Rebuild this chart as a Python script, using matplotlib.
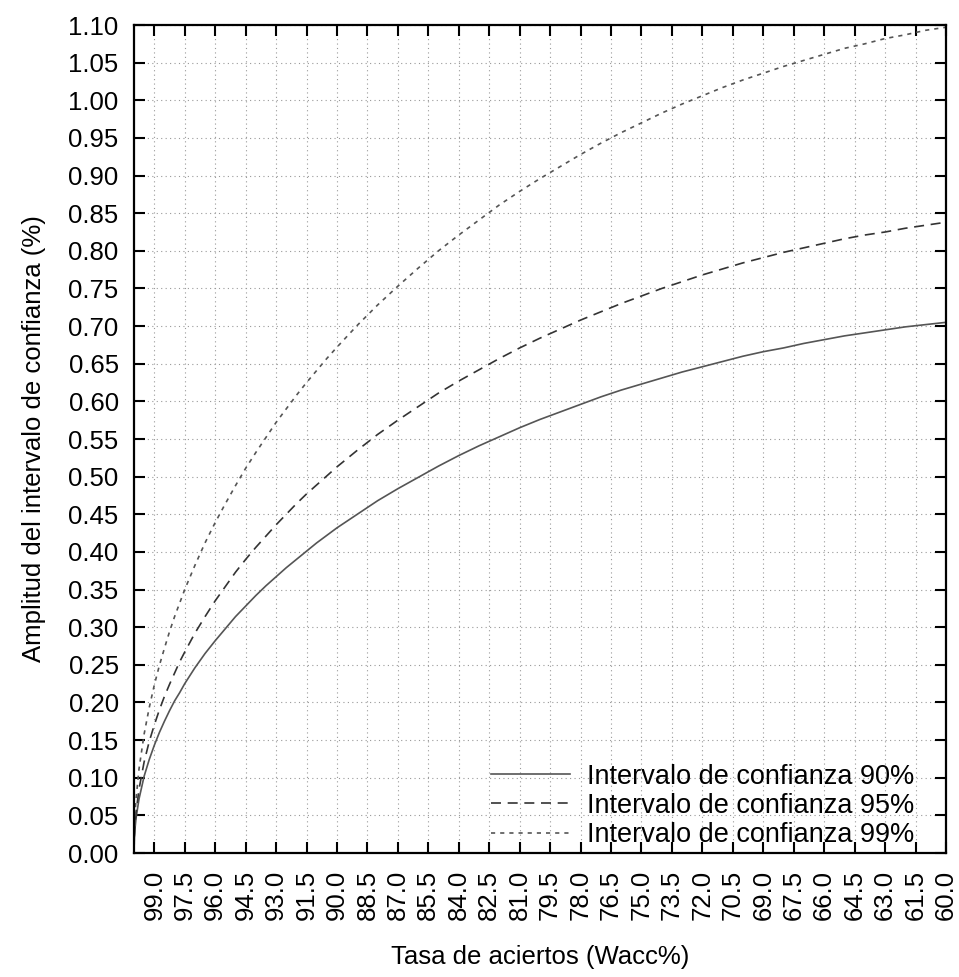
import numpy as np
import matplotlib
matplotlib.use("Agg")
import matplotlib.pyplot as plt

plt.rcParams['font.family'] = ['Liberation Sans', 'DejaVu Sans']

# Tasa de aciertos (%), with extra points near 100
wacc = [100.0, 99.98, 99.95, 99.9, 99.75, 99.5, 99.25, 99.0, 98.75, 98.5,
        98.25, 98.0, 97.75, 97.5, 97.0, 96.5, 96.0, 95.5, 95.0, 94.5, 94.0,
        93.5, 93.0, 92.5, 92.0, 91.5, 91.0, 90.5, 90.0, 89.0, 88.0, 87.0,
        86.0, 85.0, 84.0, 83.0, 82.0, 81.0, 80.0, 79.0, 78.0, 77.0, 76.0,
        75.0, 74.0, 73.0, 72.0, 71.0, 70.0, 69.0, 68.0, 67.0, 66.0, 65.0,
        64.0, 63.0, 62.0, 61.0, 60.0]

ic90 = [0.0, 0.020, 0.032, 0.046, 0.072, 0.102, 0.124, 0.143, 0.160, 0.175,
        0.189, 0.202, 0.213, 0.225, 0.246, 0.265, 0.282, 0.298, 0.314, 0.328,
        0.342, 0.355, 0.367, 0.379, 0.390, 0.401, 0.412, 0.422, 0.432, 0.450,
        0.468, 0.484, 0.499, 0.514, 0.528, 0.541, 0.553, 0.565, 0.576, 0.586,
        0.596, 0.606, 0.615, 0.623, 0.631, 0.639, 0.646, 0.653, 0.660, 0.666,
        0.671, 0.677, 0.682, 0.687, 0.691, 0.695, 0.699, 0.702, 0.705]

ic95 = [0.0, 0.024, 0.038, 0.054, 0.085, 0.121, 0.148, 0.170, 0.190, 0.208,
        0.224, 0.239, 0.254, 0.267, 0.292, 0.314, 0.335, 0.354, 0.373, 0.390,
        0.406, 0.421, 0.436, 0.450, 0.464, 0.477, 0.489, 0.501, 0.513, 0.535,
        0.556, 0.575, 0.593, 0.611, 0.627, 0.642, 0.657, 0.671, 0.684, 0.696,
        0.708, 0.719, 0.730, 0.740, 0.750, 0.759, 0.768, 0.776, 0.784, 0.791,
        0.798, 0.804, 0.810, 0.816, 0.821, 0.825, 0.830, 0.834, 0.838]

ic99 = [0.0, 0.032, 0.050, 0.071, 0.112, 0.158, 0.193, 0.223, 0.249, 0.272,
        0.294, 0.314, 0.332, 0.350, 0.382, 0.412, 0.439, 0.464, 0.488, 0.511,
        0.532, 0.552, 0.572, 0.590, 0.608, 0.625, 0.641, 0.657, 0.672, 0.701,
        0.728, 0.753, 0.777, 0.800, 0.821, 0.841, 0.861, 0.879, 0.896, 0.912,
        0.928, 0.943, 0.957, 0.970, 0.983, 0.995, 1.006, 1.017, 1.027, 1.036,
        1.045, 1.053, 1.061, 1.069, 1.075, 1.082, 1.087, 1.093, 1.097]

x_ticks = [99.0, 97.5, 96.0, 94.5, 93.0, 91.5, 90.0, 88.5, 87.0, 85.5, 84.0,
           82.5, 81.0, 79.5, 78.0, 76.5, 75.0, 73.5, 72.0, 70.5, 69.0, 67.5,
           66.0, 64.5, 63.0, 61.5, 60.0]
y_ticks = [0.00, 0.05, 0.10, 0.15, 0.20, 0.25, 0.30, 0.35, 0.40, 0.45, 0.50,
           0.55, 0.60, 0.65, 0.70, 0.75, 0.80, 0.85, 0.90, 0.95, 1.00, 1.05,
           1.10]

labels = ["Intervalo de confianza 90%", "Intervalo de confianza 95%",
          "Intervalo de confianza 99%"]

assert len(wacc) == len(ic90) == len(ic95) == len(ic99)

FS = 18.5

fig = plt.figure(figsize=(9.59, 9.77), dpi=100)
ax = fig.add_axes([0.1397, 0.1269, 0.8467, 0.8475])

ax.plot(wacc, ic90, color='#555555', lw=1.2, ls='-', label=labels[0])
ax.plot(wacc, ic95, color='#333333', lw=1.2, ls=(0, (6, 4)), label=labels[1])
ax.plot(wacc, ic99, color='#555555', lw=1.2, ls=(0, (2.5, 3)), label=labels[2])

ax.set_xlim(100, 60)
ax.set_ylim(0, 1.10)
ax.set_xticks(x_ticks)
ax.set_xticklabels(["%.1f" % v for v in x_ticks], rotation=90, fontsize=FS)
ax.set_yticks(y_ticks)
ax.set_yticklabels(["%.2f" % v for v in y_ticks], fontsize=FS)

ax.grid(True, color='#999999', lw=0.8, ls=(0, (1, 3)))
ax.tick_params(axis='y', direction='in', length=8, width=1.5, right=True,
               pad=11)
ax.tick_params(axis='x', direction='in', length=8, width=1.5, top=True,
               pad=12)
for s in ax.spines.values():
    s.set_linewidth(1.6)

ax.set_xlabel("Tasa de aciertos (Wacc%)", fontsize=FS, labelpad=18)
ax.set_ylabel("Amplitud del intervalo de confianza (%)", fontsize=FS,
              labelpad=16)

leg = ax.legend(loc='lower right', bbox_to_anchor=(0.9606, 0.006),
                frameon=False, fontsize=19.5, handlelength=2.9,
                handletextpad=0.63, labelspacing=0.12, borderaxespad=0,
                borderpad=0)

fig.savefig("out.png", dpi=100)
